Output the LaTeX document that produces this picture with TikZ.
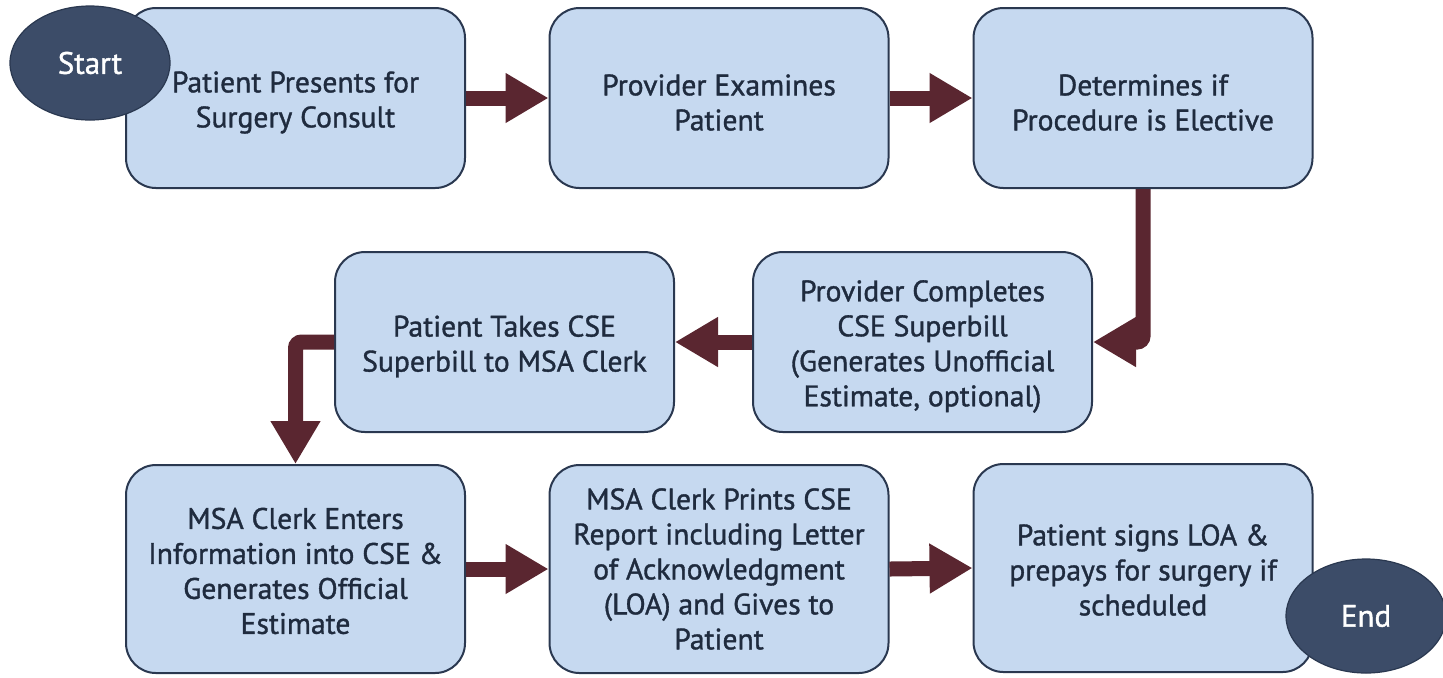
\documentclass[tikz,border=0pt]{standalone}
\usepackage{fontspec}
\setmainfont{PT Sans}[UprightFeatures={FakeBold=1.2}]
\usetikzlibrary{arrows.meta,shapes.geometric}
\definecolor{boxfill}{HTML}{C6D9F0}
\definecolor{boxline}{HTML}{2A3850}
\definecolor{txt}{HTML}{1F2B3E}
\definecolor{ovalfill}{HTML}{3C4C68}
\definecolor{arrowc}{HTML}{5A2630}
\newcommand{\topstrut}{\rule{0pt}{15pt}}
\newcommand{\smallstrut}{\rule{0pt}{12.5pt}}
\tikzset{
  stepbox/.style={draw=boxline, line width=1pt, fill=boxfill, rounded corners=15pt,
    minimum width=169.5pt, minimum height=90pt, inner sep=0pt, align=center,
    text=txt, font=\fontsize{14.8}{17.5}\selectfont},
  tallbox/.style={stepbox, minimum height=104pt},
  oval/.style={ellipse, draw=boxline, line width=0.6pt, fill=ovalfill, text=white,
    minimum width=80pt, minimum height=57pt, inner sep=0pt,
    font=\fontsize{15.5}{18}\selectfont},
  flow/.style={draw=arrowc, line width=7.5pt, rounded corners=3pt,
    -{Triangle[length=21.5pt,width=23.5pt]}},
}
\begin{document}
\begin{tikzpicture}[x=0.5pt,y=-0.5pt]
\useasboundingbox (0,0) rectangle (1443,677);
\node[stepbox] (b1) at (295.5,98) {\topstrut Patient Presents for\\Surgery Consult};
\node[stepbox] (b2) at (719,98) {\topstrut Provider Examines\\Patient};
\node[stepbox] (b3) at (1143,98) {\topstrut Determines if\\Procedure is Elective};
\node[stepbox] (b5) at (922.5,342) {\topstrut Provider Completes\\CSE Superbill\\(Generates Unofficial\\Estimate, optional)};
\node[stepbox] (b4) at (504.5,342) {\topstrut Patient Takes CSE\\Superbill to MSA Clerk};
\node[tallbox] (b6) at (295.5,569) {\smallstrut MSA Clerk Enters\\Information into CSE \&\\Generates Official\\Estimate};
\node[tallbox] (b7) at (719,569) {MSA Clerk Prints CSE\\Report including Letter\\of Acknowledgment\\(LOA) and Gives to\\Patient};
\node[tallbox] (b8) at (1143,568) {\smallstrut Patient signs LOA \&\\prepays for surgery if\\scheduled};
\node[oval] (start) at (90,63) {Start};
\node[oval] (end) at (1366,616) {End};
\draw[flow] (b1.east) -- (b2.west);
\draw[flow] (b2.east) -- (b3.west);
\draw[flow] (b3.south) |- (b5.east);
\draw[flow] (b5.west) -- (b4.east);
\draw[flow] (b4.west) -| (b6.north);
\draw[flow] (b6.east) -- (b7.west);
\draw[flow] (b7.east) -- (b8.west);
\end{tikzpicture}
\end{document}
